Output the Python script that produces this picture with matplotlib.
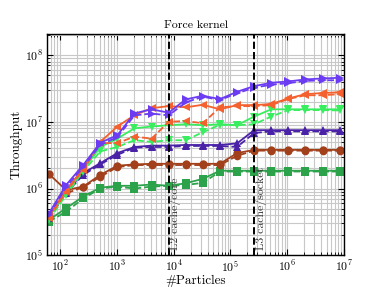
import matplotlib
matplotlib.use("Agg")
import matplotlib.pyplot as plt
from matplotlib.ticker import LogLocator, NullFormatter

plt.rcParams['font.family'] = ['cmr10', 'DejaVu Serif']
plt.rcParams['mathtext.fontset'] = 'cm'
plt.rcParams['axes.formatter.use_mathtext'] = True

particles = [64, 128, 256, 512, 1024, 2048, 4096, 8192, 16384, 32768, 65536,
             131072, 262144, 524288, 1048576, 2097152, 4194304, 8388608]

purple_solid = [4.25e5, 1.13e6, 2.25e6, 4.86e6, 6.3e6, 1.34e7, 1.54e7, 1.37e7, 2.17e7,
                2.46e7, 2.19e7, 2.82e7, 3.43e7, 3.85e7, 4.03e7, 4.32e7, 4.47e7, 4.57e7]
purple_dashed = [4.0e5, 1.05e6, 2.1e6, 4.5e6, 5.9e6, 1.25e7, 1.33e7, 1.25e7, 1.96e7,
                 2.38e7, 2.12e7, 2.68e7, 3.25e7, 3.6e7, 3.8e7, 4.1e7, 4.2e7, 4.2e7]
orange_solid = [3.8e5, 9.5e5, 2.0e6, 5.0e6, 8.5e6, 1.26e7, 1.6e7, 1.72e7, 1.65e7,
                1.8e7, 1.54e7, 1.78e7, 1.78e7, 1.85e7, 2.24e7, 2.6e7, 2.7e7, 2.77e7]
orange_dashed = [3.6e5, 8.9e5, 1.9e6, 4.8e6, 4.8e6, 6.0e6, 5.6e6, 1.0e7, 1.03e7,
                 9.5e6, 1.65e7, 1.72e7, 1.72e7, 1.78e7, 2.2e7, 2.5e7, 2.5e7, 2.6e7]
lgreen_solid = [3.8e5, 8.5e5, 1.9e6, 4.2e6, 5.6e6, 8.0e6, 8.5e6, 8.9e6, 9.2e6,
                8.9e6, 9.2e6, 8.9e6, 1.2e7, 1.54e7, 1.54e7, 1.54e7, 1.54e7, 1.54e7]
lgreen_dashed = [3.4e5, 8.0e5, 1.8e6, 3.6e6, 4.2e6, 5.3e6, 5.0e6, 5.3e6, 5.3e6,
                 7.0e6, 9.0e6, 8.9e6, 9.2e6, 1.2e7, 1.5e7, 1.5e7, 1.5e7, 1.48e7]
indigo_solid = [3.9e5, 9.0e5, 1.7e6, 2.4e6, 3.4e6, 4.2e6, 4.4e6, 4.4e6, 4.5e6,
                4.5e6, 4.5e6, 4.75e6, 7.5e6, 7.5e6, 7.5e6, 7.5e6, 7.5e6, 7.5e6]
indigo_dashed = [3.6e5, 8.5e5, 1.6e6, 2.3e6, 3.2e6, 4.1e6, 4.2e6, 4.2e6, 4.35e6,
                 4.35e6, 4.35e6, 4.2e6, 6.8e6, 7.2e6, 7.2e6, 7.2e6, 7.2e6, 7.2e6]
brown_solid = [1.65e6, 9.5e5, 1.07e6, 1.6e6, 2.2e6, 2.3e6, 2.35e6, 2.35e6, 2.35e6,
               2.35e6, 2.35e6, 3.4e6, 3.8e6, 3.8e6, 3.8e6, 3.8e6, 3.8e6, 3.8e6]
brown_dashed = [4.0e5, 8.5e5, 1.05e6, 1.5e6, 2.1e6, 2.25e6, 2.25e6, 2.25e6, 2.25e6,
                2.25e6, 2.25e6, 3.1e6, 3.7e6, 3.7e6, 3.7e6, 3.7e6, 3.7e6, 3.7e6]
green_solid = [3.4e5, 5.05e5, 7.6e5, 1.03e6, 1.1e6, 1.1e6, 1.15e6, 1.1e6, 1.2e6,
               1.4e6, 1.85e6, 1.85e6, 1.85e6, 1.85e6, 1.85e6, 1.85e6, 1.85e6, 1.85e6]
green_dashed = [3.2e5, 4.5e5, 7.1e5, 1.0e6, 1.07e6, 1.0e6, 1.07e6, 1.1e6, 1.13e6,
                1.22e6, 1.8e6, 1.8e6, 1.8e6, 1.8e6, 1.8e6, 1.8e6, 1.8e6, 1.8e6]

cache_lines = [8192, 262144]
cache_labels = ["L2 cache/core", "L3 cache/socket"]

series = [
    (green_solid, green_dashed, '#2ca24a', 's'),
    (brown_solid, brown_dashed, '#a2401c', 'o'),
    (indigo_solid, indigo_dashed, '#4a22a8', '^'),
    (lgreen_solid, lgreen_dashed, '#38ee5e', 'v'),
    (orange_solid, orange_dashed, '#f4602e', '<'),
    (purple_solid, purple_dashed, '#6c3cf2', '>'),
]

fig = plt.figure(figsize=(3.82, 2.87), dpi=100)
ax = fig.add_axes([0.124, 0.1105, 0.7765, 0.771])

for solid, dashed, color, marker in series:
    ax.plot(particles, dashed, linestyle='--', color=color, marker=marker,
            markersize=5.5, linewidth=1.3, markeredgewidth=0)
    ax.plot(particles, solid, linestyle='-', color=color, marker=marker,
            markersize=6, linewidth=1.3, markeredgewidth=0)

for xv, lab in zip(cache_lines, cache_labels):
    ax.axvline(xv, color='black', linestyle='--', linewidth=1.4, zorder=5)
    ax.text(xv * 1.06, 1.2e5, lab, rotation=90, ha='left', va='bottom',
            fontsize=8.5, color='#333333', zorder=6)

ax.set_xscale('log')
ax.set_yscale('log')
ax.set_xlim(60, 1e7)
ax.set_ylim(1e5, 2.07e8)

ax.xaxis.set_major_locator(LogLocator(base=10, numticks=20))
ax.yaxis.set_major_locator(LogLocator(base=10, numticks=20))
ax.xaxis.set_minor_locator(LogLocator(base=10, subs=range(2, 10), numticks=20))
ax.yaxis.set_minor_locator(LogLocator(base=10, subs=range(2, 10), numticks=20))
ax.xaxis.set_minor_formatter(NullFormatter())
ax.yaxis.set_minor_formatter(NullFormatter())

ax.grid(True, which='both', color='#c8c8c8', linewidth=0.8)
ax.set_axisbelow(True)
ax.tick_params(which='both', direction='in', top=True, right=True, labelsize=8.5)
ax.tick_params(which='major', length=4, width=0.8, pad=3)
ax.tick_params(which='minor', length=2, width=0.6)
for s in ax.spines.values():
    s.set_linewidth(1.0)

ax.set_title("Force kernel", fontsize=8.5, pad=4)
ax.set_xlabel("#Particles", fontsize=9.5, labelpad=0)
ax.set_ylabel("Throughput", fontsize=9.5, labelpad=2)

fig.savefig("out.png", dpi=100)
